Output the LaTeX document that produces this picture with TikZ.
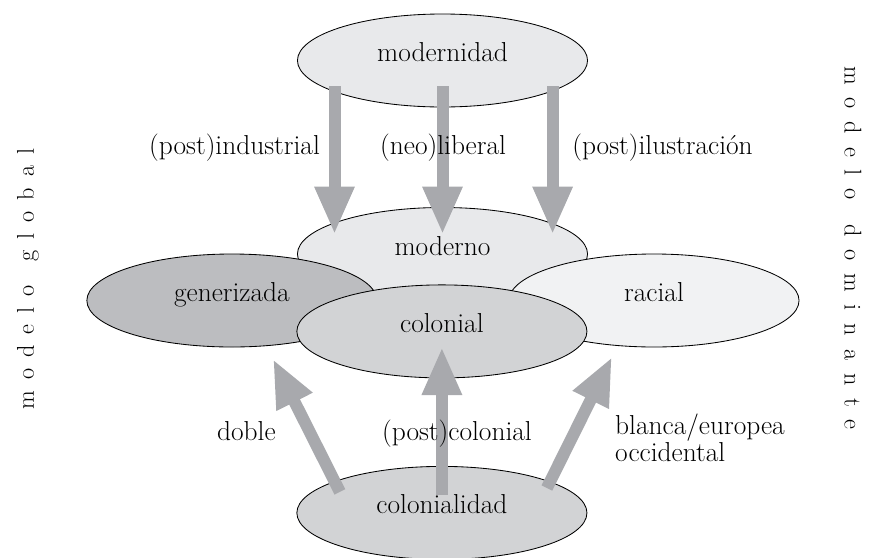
\documentclass[tikz,border=0pt]{standalone}
\usepackage{fontspec}
\usetikzlibrary{shapes.geometric,arrows.meta,calc}
\definecolor{flecha}{RGB}{168,169,173}
\definecolor{claro}{RGB}{232,233,235}
\definecolor{muyclaro}{RGB}{241,242,243}
\definecolor{medio}{RGB}{210,211,213}
\definecolor{oscuro}{RGB}{188,189,192}
\tikzset{
  elipse/.style={ellipse, draw, line width=0.8pt, minimum width=9.67cm, minimum height=3.1cm, inner sep=0pt, text height=0.7em, text depth=0.5em},
  flechagris/.style={->, draw=flecha, line width=0.4cm},
  etiqueta/.style={inner sep=0pt},
  vertical/.style={font=\fontsize{23}{24}\selectfont}
}
\newcommand{\ls}{\hspace{0.45em}}
\newcommand{\lsd}{\hspace{0.53em}}
\begin{document}
\begin{tikzpicture}[font=\fontsize{26}{24}\selectfont, line join=round, >={Triangle[length=1.6cm,width=1.23cm]}]
			\useasboundingbox (0,0) rectangle (29,18.567);
			% elipses
			\node[elipse, fill=claro] (modernidad) at (14.75,16.55) {modernidad};
			\node[elipse, fill=claro] (moderno) at (14.75,10.1) {moderno};
			\node[elipse, fill=oscuro] (generizada) at (7.73,8.55) {generizada};
			\node[elipse, fill=muyclaro] (racial) at (21.8,8.55) {racial};
			\node[elipse, fill=medio] (colonial) at (14.73,7.52) {colonial};
			\node[elipse, fill=medio] (colonialidad) at (14.73,1.47) {colonialidad};
			% flechas
			\foreach \dx in {-3.6,0,3.67}{\draw[flechagris] ($(modernidad.center)+(\dx,-0.85)$) -- ($(moderno.center)+(\dx,0.65)$);}
			\draw[flechagris] ($(colonialidad.center)+(-3.4,0.7)$) -- ($(generizada.center)+(1.37,-1.95)$);
			\draw[flechagris] ($(colonialidad.center)+(0,0.6)$) -- ($(colonial.center)+(0,-0.52)$);
			\draw[flechagris] ($(colonialidad.center)+(3.5,0.83)$) -- ($(racial.center)+(-1.4,-1.88)$);
			% etiquetas
			\node[etiqueta, anchor=base east] (industrial) at (10.67,13.43) {(post)industrial};
			\node[etiqueta, anchor=base] (liberal) at (14.77,13.43) {(neo)liberal};
			\node[etiqueta, anchor=base west] (ilustracion) at (19.07,13.43) {(post)ilustración};
			\node[etiqueta, anchor=base west] (doble) at (7.23,3.9) {doble};
			\node[etiqueta, anchor=base west] (postcolonial) at (12.73,3.9) {(post)colonial};
			\node[etiqueta, anchor=north west, align=left] (blanca) at (20.5,4.77) {blanca/europea\\occidental};
			\node[vertical, rotate=90] (global) at (0.93,9.27) {m\ls o\ls d\ls e\ls l\ls o\hspace{1em}g\ls l\ls o\ls b\ls a\ls l};
			\node[vertical, rotate=-90] (dominante) at (28.43,10.3) {m\lsd o\lsd d\lsd e\lsd l\lsd o\hspace{1em}d\lsd o\lsd m\lsd i\lsd n\lsd a\lsd n\lsd t\lsd e};
		\end{tikzpicture}
\end{document}
